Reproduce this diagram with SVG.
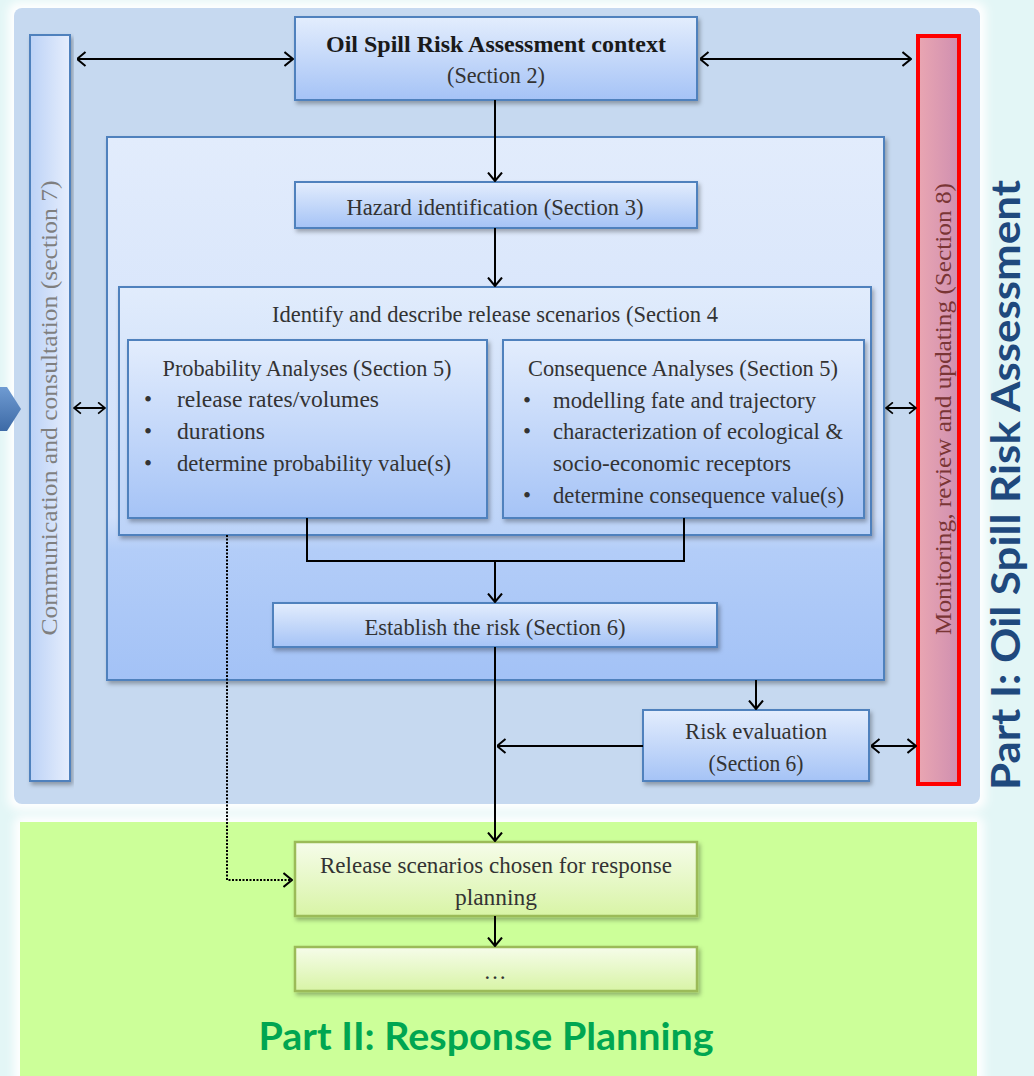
<svg xmlns="http://www.w3.org/2000/svg" width="1034" height="1076" viewBox="0 0 1034 1076">
<defs>
<style>
.t{font-family:"Liberation Serif","DejaVu Serif",serif;font-size:23px;fill:#333333;}
.tb{font-weight:bold;fill:#1a1a1a;}
.c{text-anchor:middle;}
.box{fill:url(#gBlue);stroke:#4f81bd;stroke-width:2;filter:url(#sh);}
.gbox{fill:url(#gGreen);stroke:#9bbb59;stroke-width:2.5;filter:url(#sh);}
.ln{fill:none;stroke:#000;stroke-width:2;}
.big{font-family:Lato,"Open Sans","Liberation Sans",sans-serif;font-weight:bold;}
</style>
<linearGradient id="gBlue" x1="0" y1="0" x2="0" y2="1"><stop offset="0" stop-color="#e3edfd"/><stop offset="1" stop-color="#a5c3f6"/></linearGradient>
<linearGradient id="gPanel" x1="0" y1="0" x2="0" y2="1"><stop offset="0" stop-color="#e2ecfc"/><stop offset="0.7" stop-color="#cfdffa"/><stop offset="0.76" stop-color="#b3cdf8"/><stop offset="1" stop-color="#a3c2f6"/></linearGradient>
<linearGradient id="gRel" x1="0" y1="0" x2="0" y2="1"><stop offset="0" stop-color="#e1ecfc"/><stop offset="1" stop-color="#bcd3f8"/></linearGradient>
<linearGradient id="gGreen" x1="0" y1="0" x2="0" y2="1"><stop offset="0" stop-color="#f6fcea"/><stop offset="1" stop-color="#d8f4a6"/></linearGradient>
<linearGradient id="gLeft" x1="0" y1="0" x2="1" y2="0"><stop offset="0" stop-color="#bcd2f6"/><stop offset="1" stop-color="#e6eefd"/></linearGradient>
<linearGradient id="gRight" x1="0" y1="0" x2="1" y2="0"><stop offset="0" stop-color="#eaa6b2"/><stop offset="1" stop-color="#cf8fb0"/></linearGradient>
<linearGradient id="gChev" x1="0" y1="0" x2="0" y2="1"><stop offset="0" stop-color="#6f9bd2"/><stop offset="1" stop-color="#3d6aa6"/></linearGradient>
<filter id="sh" x="-10%" y="-10%" width="120%" height="130%"><feDropShadow dx="2" dy="3" stdDeviation="2" flood-color="#000" flood-opacity="0.3"/></filter>
<filter id="glow" x="-5%" y="-5%" width="110%" height="110%"><feGaussianBlur stdDeviation="5"/></filter>
<marker id="ah" viewBox="0 0 10 16" refX="9.5" refY="8" markerWidth="10" markerHeight="16" markerUnits="userSpaceOnUse" orient="auto-start-reverse"><path d="M1,1 L9.5,8 L1,15" fill="none" stroke="#000" stroke-width="2"/></marker>
<marker id="ahs" viewBox="0 0 10 16" refX="9.5" refY="8" markerWidth="9" markerHeight="13" markerUnits="userSpaceOnUse" orient="auto-start-reverse"><path d="M1,1 L9.5,8 L1,15" fill="none" stroke="#000" stroke-width="2"/></marker>
</defs>
<rect x="0" y="0" width="1034" height="1076" fill="#e3f6f6"/>
<g id="partI-panel">
<rect x="8" y="2" width="978" height="808" rx="10" fill="#ffffff" filter="url(#glow)"/>
<rect x="14" y="8" width="966" height="796" rx="8" fill="#c6d9f0"/>
</g>
<g id="partII-panel">
<rect x="14" y="816" width="970" height="270" rx="8" fill="#ffffff" filter="url(#glow)"/>
<rect x="20" y="822" width="957" height="260" fill="#ccff99"/>
</g>
<polygon id="chevron" points="0,387 7,387 21,409 7,431 0,431" fill="url(#gChev)"/>
<g id="comm">
<rect x="30" y="35" width="40" height="746" fill="url(#gLeft)" stroke="#4f81bd" stroke-width="2" filter="url(#sh)"/>
<text class="t c" x="57" y="408" style="fill:#7f7f7f" transform="rotate(-90 57 408)" textLength="455" lengthAdjust="spacingAndGlyphs">Communication and consultation (section 7)</text>
</g>
<g id="monitor">
<rect x="918" y="36" width="41" height="748" fill="url(#gRight)" stroke="#ff0000" stroke-width="4"/>
<text class="t c" x="951" y="409" style="fill:#7a3535" transform="rotate(-90 951 409)" textLength="452" lengthAdjust="spacingAndGlyphs">Monitoring, review and updating (Section 8)</text>
</g>
<g id="context">
<rect class="box" x="295" y="17" width="402" height="83"/>
<text class="t tb c" x="496" y="52" textLength="340" lengthAdjust="spacingAndGlyphs">Oil Spill Risk Assessment context</text>
<text class="t c" x="496" y="83" textLength="98" lengthAdjust="spacingAndGlyphs">(Section 2)</text>
</g>
<g id="inner-panel">
<rect x="107" y="137" width="777" height="543" fill="url(#gPanel)" stroke="#4f81bd" stroke-width="2" filter="url(#sh)"/>
</g>
<g id="hazard">
<rect class="box" x="295" y="182" width="402" height="46"/>
<text class="t c" x="495" y="215" textLength="297" lengthAdjust="spacingAndGlyphs">Hazard identification (Section 3)</text>
</g>
<g id="release">
<rect x="119" y="287" width="752" height="248" fill="url(#gRel)" stroke="#4f81bd" stroke-width="2" filter="url(#sh)"/>
<text class="t c" x="495" y="322" textLength="446" lengthAdjust="spacingAndGlyphs">Identify and describe release scenarios (Section 4</text>
</g>
<g id="probability">
<rect class="box" x="128" y="340" width="359" height="178"/>
<text class="t c" x="307" y="376" textLength="289" lengthAdjust="spacingAndGlyphs">Probability Analyses (Section 5)</text>
<text class="t" x="144" y="407">•</text>
<text class="t" x="177" y="407" textLength="202" lengthAdjust="spacingAndGlyphs">release rates/volumes</text>
<text class="t" x="144" y="439">•</text>
<text class="t" x="177" y="439" textLength="88" lengthAdjust="spacingAndGlyphs">durations</text>
<text class="t" x="144" y="471">•</text>
<text class="t" x="177" y="471" textLength="274" lengthAdjust="spacingAndGlyphs">determine probability value(s)</text>
</g>
<g id="consequence">
<rect class="box" x="503" y="340" width="361" height="178"/>
<text class="t c" x="683" y="376" textLength="310" lengthAdjust="spacingAndGlyphs">Consequence Analyses (Section 5)</text>
<text class="t" x="523" y="408">•</text>
<text class="t" x="553" y="408" textLength="263" lengthAdjust="spacingAndGlyphs">modelling fate and trajectory</text>
<text class="t" x="523" y="439">•</text>
<text class="t" x="553" y="439" textLength="290" lengthAdjust="spacingAndGlyphs">characterization of ecological &amp;</text>
<text class="t" x="553" y="471" textLength="238" lengthAdjust="spacingAndGlyphs">socio-economic receptors</text>
<text class="t" x="523" y="503">•</text>
<text class="t" x="553" y="503" textLength="291" lengthAdjust="spacingAndGlyphs">determine consequence value(s)</text>
</g>
<g id="establish">
<rect class="box" x="273" y="603" width="444" height="44"/>
<text class="t c" x="495" y="635" textLength="261" lengthAdjust="spacingAndGlyphs">Establish the risk (Section 6)</text>
</g>
<g id="evaluation">
<rect class="box" x="643" y="710" width="226" height="71"/>
<text class="t c" x="756" y="739" textLength="142" lengthAdjust="spacingAndGlyphs">Risk evaluation</text>
<text class="t c" x="756" y="771" textLength="95" lengthAdjust="spacingAndGlyphs">(Section 6)</text>
</g>
<g id="chosen">
<rect class="gbox" x="295" y="842" width="402" height="74"/>
<text class="t c" x="496" y="873" textLength="352" lengthAdjust="spacingAndGlyphs">Release scenarios chosen for response</text>
<text class="t c" x="496" y="905" textLength="82" lengthAdjust="spacingAndGlyphs">planning</text>
</g>
<g id="next">
<rect class="gbox" x="295" y="947" width="402" height="44"/>
<text class="t c" x="495" y="979">…</text>
</g>
<g id="connectors">
<line class="ln" x1="77" y1="59" x2="293" y2="59" marker-start="url(#ah)" marker-end="url(#ah)"/>
<line class="ln" x1="700" y1="59" x2="911" y2="59" marker-start="url(#ah)" marker-end="url(#ah)"/>
<line class="ln" x1="495" y1="100" x2="495" y2="181" marker-end="url(#ah)"/>
<line class="ln" x1="495" y1="228" x2="495" y2="286" marker-end="url(#ah)"/>
<line class="ln" x1="74" y1="408" x2="105" y2="408" marker-start="url(#ahs)" marker-end="url(#ahs)"/>
<line class="ln" x1="886" y1="408" x2="916" y2="408" marker-start="url(#ahs)" marker-end="url(#ahs)"/>
<polyline class="ln" points="307,518 307,561 684,561 684,518"/>
<line class="ln" x1="495" y1="561" x2="495" y2="602" marker-end="url(#ah)"/>
<line class="ln" x1="495" y1="647" x2="495" y2="841" marker-end="url(#ah)"/>
<line class="ln" x1="756" y1="680" x2="756" y2="709" marker-end="url(#ah)"/>
<line class="ln" x1="643" y1="746" x2="497" y2="746" marker-end="url(#ah)"/>
<line class="ln" x1="871" y1="746" x2="916" y2="746" marker-start="url(#ah)" marker-end="url(#ah)"/>
<line class="ln" x1="495" y1="916" x2="495" y2="946" marker-end="url(#ah)"/>
<polyline class="ln" points="227,535 227,880 292,880" stroke-width="2.5" stroke-dasharray="2,1.5" marker-end="url(#ah)"/>
</g>
<text class="big" x="1020" y="485" text-anchor="middle" font-size="40" fill="#1f497d" transform="rotate(-90 1020 485)" textLength="610" lengthAdjust="spacingAndGlyphs">Part I: Oil Spill Risk Assessment</text>
<text class="big" x="486" y="1050" text-anchor="middle" font-size="38" fill="#00a651" textLength="455" lengthAdjust="spacingAndGlyphs">Part II: Response Planning</text>
</svg>
